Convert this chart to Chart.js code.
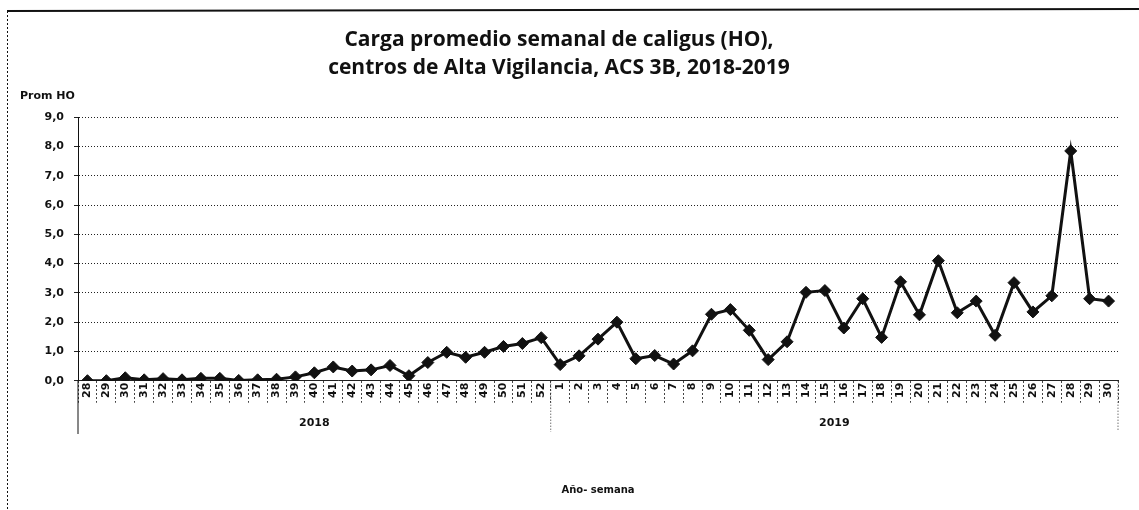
<!DOCTYPE html>
<html>
<head>
<meta charset="utf-8">
<script src="https://cdn.jsdelivr.net/npm/chart.js@4"></script>
<style>
  body { margin: 0; background: #fff; }
  #wrap { width: 1139px; height: 510px; }
</style>
</head>
<body>
<div id="wrap"><canvas id="c" width="1139" height="510"></canvas></div>
<script>
const weeks2018 = ['28','29','30','31','32','33','34','35','36','37','38','39','40','41','42','43','44','45','46','47','48','49','50','51','52'];
const weeks2019 = ['1','2','3','4','5','6','7','8','9','10','11','12','13','14','15','16','17','18','19','20','21','22','23','24','25','26','27','28','29','30'];
const prom2018 = [0.0,0.0,0.1,0.03,0.07,0.03,0.08,0.08,0.01,0.03,0.05,0.13,0.27,0.47,0.33,0.37,0.52,0.17,0.62,0.97,0.8,0.97,1.17,1.27,1.47];
const prom2019 = [0.55,0.85,1.42,2.0,0.75,0.86,0.57,1.02,2.27,2.43,1.72,0.72,1.33,3.02,3.08,1.8,2.8,1.48,3.38,2.25,4.1,2.32,2.72,1.55,3.35,2.35,2.9,7.85,2.8,2.72];
const years = ['2018', '2019'];
const yTicks = [0,1,2,3,4,5,6,7,8,9];

const labels = [...weeks2018, ...weeks2019];
const values = [...prom2018, ...prom2019];
const groups = [weeks2018.length, weeks2019.length];

const tickFont = { family: 'DejaVu Sans', size: 11, weight: 'bold' };

// year row, separators, frame and "Prom HO"
const extras = {
  id: 'extras',
  afterDraw(chart) {
    const ctx = chart.ctx;
    const x = chart.scales.x;
    const area = chart.chartArea;
    const half = (x.getPixelForValue(1) - x.getPixelForValue(0)) / 2;
    ctx.save();
    ctx.fillStyle = '#111';
    ctx.strokeStyle = '#333';
    ctx.lineWidth = 1;
    ctx.font = 'bold 11px "DejaVu Sans"';
    ctx.textAlign = 'center';
    ctx.textBaseline = 'middle';
    let start = 0;
    groups.forEach((n, i) => {
      const a = x.getPixelForValue(start) - half;
      const b = x.getPixelForValue(start + n - 1) + half;
      ctx.fillText(years[i], (a + b) / 2, 423);
      start += n;
    });
    // separators below the week row
    ctx.setLineDash([1, 2]);
    const sep = x.getPixelForValue(groups[0]) - half;
    ctx.beginPath();
    ctx.moveTo(sep, area.bottom); ctx.lineTo(sep, 432);
    ctx.moveTo(area.right, area.bottom); ctx.lineTo(area.right, 430);
    ctx.stroke();
    ctx.setLineDash([]);
    ctx.strokeStyle = '#111';
    ctx.beginPath();
    ctx.moveTo(area.left, area.bottom); ctx.lineTo(area.left, 434);
    ctx.stroke();
    // page frame
    ctx.lineWidth = 2;
    ctx.beginPath();
    ctx.moveTo(7, 11); ctx.lineTo(1139, 9);
    ctx.stroke();
    ctx.lineWidth = 1;
    ctx.setLineDash([2, 2]);
    ctx.beginPath();
    ctx.moveTo(7.5, 11); ctx.lineTo(7.5, 510);
    ctx.stroke();
    ctx.setLineDash([]);
    ctx.textAlign = 'left';
    ctx.font = 'bold 11px "DejaVu Sans"';
    ctx.fillText('Prom HO', 20, 96);
    ctx.restore();
  }
};

new Chart(document.getElementById('c'), {
  type: 'line',
  data: {
    labels,
    datasets: [{
      data: values,
      borderColor: '#111',
      backgroundColor: '#111',
      borderWidth: 3,
      tension: 0,
      pointStyle: 'rectRot',
      pointRadius: 6,
      pointBorderWidth: 1
    }]
  },
  options: {
    responsive: false,
    animation: false,
    layout: { padding: { left: 0, right: 21, top: 0, bottom: 6 } },
    plugins: {
      legend: { display: false },
      tooltip: { enabled: false },
      title: {
        display: true,
        text: ['Carga promedio semanal de caligus (HO),', 'centros de Alta Vigilancia, ACS 3B, 2018-2019'],
        color: '#111',
        font: { family: 'Open Sans', size: 21, weight: 'bold', lineHeight: 1.34 },
        padding: { top: 26, bottom: 35 }
      }
    },
    scales: {
      x: {
        offset: true,
        grid: {
          offset: true,
          drawOnChartArea: false,
          drawTicks: true,
          tickLength: 22,
          tickBorderDash: [2, 2],
          color: '#444'
        },
        border: { display: true, color: '#222', width: 1 },
        ticks: {
          autoSkip: false,
          maxRotation: 90,
          minRotation: 90,
          padding: -20,
          color: '#111',
          font: tickFont
        },
        title: {
          display: true,
          text: 'Año- semana',
          color: '#111',
          font: { family: 'DejaVu Sans', size: 10, weight: 'bold' },
          padding: { top: 106, bottom: 8 }
        }
      },
      y: {
        min: 0,
        max: 9,
        afterFit(scale) { scale.width = 78; },
        afterBuildTicks(scale) { scale.ticks = yTicks.map(v => ({ value: v })); },
        grid: {
          color: '#222',
          drawTicks: true,
          tickLength: 4
        },
        border: { display: true, color: '#111', width: 1, dash: [1, 2] },
        ticks: {
          color: '#111',
          font: tickFont,
          padding: 10,
          callback: v => v.toFixed(1).replace('.', ',')
        }
      }
    }
  },
  plugins: [extras]
});
</script>
</body>
</html>
